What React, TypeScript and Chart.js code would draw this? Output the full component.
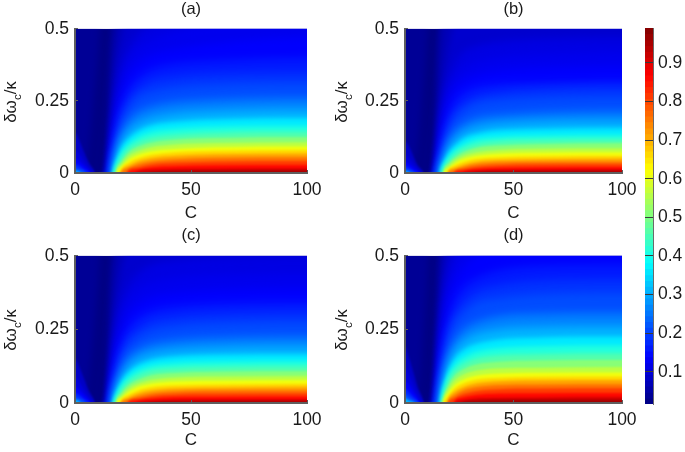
import React, { useEffect, useRef } from "react";
import { Chart, registerables } from "chart.js";

Chart.register(...registerables);

const RIGHT_COLS = [13, 15, 16, 17, 18, 20, 23, 27, 33, 43, 60, 100];
const LEFT_COLS = [0, 2, 4, 6, 8, 10, 12];
const RIGHT_LEVELS = [0.04, 0.06, 0.08, 0.1, 0.11, 0.125, 0.15, 0.175, 0.2, 0.25, 0.3, 0.35, 0.4, 0.45, 0.5, 0.55, 0.6, 0.65, 0.7, 0.75, 0.8, 0.85, 0.9, 0.95];
const LEFT_LEVELS = [0.07, 0.09, 0.12, 0.16, 0.2, 0.3];
const X_TICKS = [0, 50, 100];
const Y_TICKS = [0, 0.25, 0.5];
const COLORBAR_TICKS = [0.1, 0.2, 0.3, 0.4, 0.5, 0.6, 0.7, 0.8, 0.9];
const COLORBAR_STOPS = [0.017, 0.032, 0.047, 0.063, 0.078, 0.093, 0.108, 0.123, 0.139, 0.154, 0.169, 0.184, 0.199, 0.215, 0.23, 0.245, 0.26, 0.275, 0.291, 0.306, 0.321, 0.336, 0.351, 0.367, 0.382, 0.397, 0.412, 0.427, 0.443, 0.458, 0.473, 0.488, 0.503, 0.519, 0.534, 0.549, 0.564, 0.579, 0.595, 0.61, 0.625, 0.64, 0.655, 0.671, 0.686, 0.701, 0.716, 0.731, 0.747, 0.762, 0.777, 0.792, 0.807, 0.823, 0.838, 0.853, 0.868, 0.883, 0.899, 0.914, 0.929, 0.944, 0.959, 0.975];

const PANEL_A_RIGHT = [
  [0, .4, .52, .6, .6, .6, .6, .6, .6, .6, .6, .6],
  [0, .13, .3, .42, .5, .6, .6, .6, .6, .6, .6, .6],
  [0, .08, .2, .3, .38, .47, .55, .6, .6, .6, .6, .6],
  [0, .04, .12, .2, .27, .36, .43, .48, .52, .6, .6, .6],
  [0, .02, .1, .17, .23, .32, .39, .43, .46, .49, .52, .55],
  [0, .015, .07, .14, .19, .27, .34, .38, .41, .43, .45, .47],
  [0, 0, .05, .11, .16, .23, .29, .33, .36, .38, .39, .4],
  [0, 0, .03, .09, .13, .2, .25, .29, .32, .335, .345, .35],
  [0, 0, .02, .07, .11, .17, .22, .26, .28, .295, .305, .311],
  [0, 0, .01, .05, .085, .135, .18, .21, .23, .245, .254, .259],
  [0, 0, 0, .035, .065, .11, .145, .17, .19, .205, .214, .219],
  [0, 0, 0, .025, .05, .09, .12, .145, .165, .177, .185, .19],
  [0, 0, 0, .015, .035, .07, .1, .125, .143, .153, .16, .163],
  [0, 0, 0, .008, .025, .055, .085, .105, .122, .132, .139, .142],
  [0, 0, 0, 0, .015, .04, .07, .09, .105, .115, .121, .124],
  [0, 0, 0, 0, .008, .03, .058, .075, .09, .099, .104, .107],
  [0, 0, 0, 0, .003, .022, .045, .062, .075, .083, .089, .092],
  [0, 0, 0, 0, 0, .015, .035, .05, .063, .072, .077, .08],
  [0, 0, 0, 0, 0, .008, .025, .04, .052, .06, .065, .068],
  [0, 0, 0, 0, 0, .003, .017, .03, .041, .048, .053, .055],
  [0, 0, 0, 0, 0, 0, .01, .02, .03, .036, .04, .042],
  [0, 0, 0, 0, 0, 0, .004, .012, .02, .024, .027, .028],
  [0, 0, 0, 0, 0, 0, 0, .006, .011, .014, .015, .016],
  [0, 0, 0, 0, 0, 0, 0, 0, .003, .005, .007, .008],
];
const PANEL_B_RIGHT = [
  [0, .45, .55, .6, .6, .6, .6, .6, .6, .6, .6, .6],
  [0, .16, .35, .47, .55, .6, .6, .6, .6, .6, .6, .6],
  [0, .1, .2, .28, .34, .43, .52, .6, .6, .6, .6, .6],
  [0, .05, .12, .19, .25, .32, .38, .42, .44, .455, .465, .47],
  [0, .03, .09, .16, .21, .28, .33, .36, .385, .4, .41, .42],
  [0, .02, .07, .13, .18, .24, .29, .32, .34, .355, .365, .37],
  [0, .01, .05, .1, .14, .2, .25, .28, .3, .31, .315, .32],
  [0, 0, .035, .075, .11, .165, .21, .24, .265, .28, .292, .3],
  [0, 0, .025, .055, .09, .14, .185, .215, .24, .252, .26, .265],
  [0, 0, .015, .04, .065, .11, .145, .17, .19, .2, .208, .213],
  [0, 0, .005, .03, .05, .085, .115, .14, .158, .17, .177, .18],
  [0, 0, 0, .022, .04, .07, .095, .12, .135, .147, .152, .155],
  [0, 0, 0, .014, .03, .055, .08, .1, .118, .126, .13, .132],
  [0, 0, 0, .007, .02, .043, .066, .085, .1, .11, .114, .116],
  [0, 0, 0, 0, .013, .033, .054, .072, .087, .095, .1, .103],
  [0, 0, 0, 0, .006, .024, .044, .06, .072, .08, .084, .086],
  [0, 0, 0, 0, .002, .016, .034, .049, .06, .067, .07, .072],
  [0, 0, 0, 0, 0, .01, .026, .038, .049, .055, .058, .06],
  [0, 0, 0, 0, 0, .005, .018, .029, .039, .045, .048, .05],
  [0, 0, 0, 0, 0, .001, .011, .021, .03, .036, .039, .04],
  [0, 0, 0, 0, 0, 0, .006, .014, .022, .027, .03, .031],
  [0, 0, 0, 0, 0, 0, .002, .008, .014, .018, .02, .021],
  [0, 0, 0, 0, 0, 0, 0, .003, .008, .01, .011, .012],
  [0, 0, 0, 0, 0, 0, 0, 0, .002, .004, .005, .006],
];
const PANEL_C_RIGHT = [
  [0, .4, .52, .6, .6, .6, .6, .6, .6, .6, .6, .6],
  [0, .12, .3, .42, .5, .6, .6, .6, .6, .6, .6, .6],
  [0, .07, .18, .27, .35, .45, .53, .6, .6, .6, .6, .6],
  [0, .03, .11, .19, .26, .34, .4, .44, .47, .485, .495, .5],
  [0, .02, .09, .16, .21, .29, .35, .385, .41, .425, .435, .44],
  [0, .01, .07, .13, .18, .24, .3, .335, .36, .375, .385, .39],
  [0, 0, .05, .1, .14, .2, .255, .29, .315, .33, .34, .345],
  [0, 0, .03, .08, .115, .17, .22, .25, .28, .295, .305, .31],
  [0, 0, .02, .06, .09, .145, .19, .22, .245, .26, .27, .275],
  [0, 0, .01, .04, .07, .115, .155, .18, .2, .213, .221, .225],
  [0, 0, 0, .03, .055, .09, .125, .15, .168, .18, .187, .19],
  [0, 0, 0, .02, .042, .075, .105, .128, .146, .157, .163, .165],
  [0, 0, 0, .012, .03, .06, .088, .11, .127, .136, .141, .143],
  [0, 0, 0, .006, .02, .047, .073, .093, .11, .118, .122, .124],
  [0, 0, 0, 0, .012, .035, .06, .078, .094, .102, .106, .108],
  [0, 0, 0, 0, .006, .025, .048, .065, .079, .087, .09, .092],
  [0, 0, 0, 0, .002, .017, .037, .054, .066, .073, .076, .078],
  [0, 0, 0, 0, 0, .01, .027, .042, .054, .06, .063, .065],
  [0, 0, 0, 0, 0, .005, .019, .032, .043, .05, .053, .055],
  [0, 0, 0, 0, 0, .001, .012, .023, .033, .04, .043, .044],
  [0, 0, 0, 0, 0, 0, .006, .015, .024, .03, .032, .033],
  [0, 0, 0, 0, 0, 0, .002, .009, .015, .02, .021, .022],
  [0, 0, 0, 0, 0, 0, 0, .003, .008, .011, .012, .012],
  [0, 0, 0, 0, 0, 0, 0, 0, .002, .004, .005, .006],
];
const PANEL_D_RIGHT = [
  [0, .45, .55, .6, .6, .6, .6, .6, .6, .6, .6, .6],
  [0, .17, .36, .48, .55, .6, .6, .6, .6, .6, .6, .6],
  [0, .12, .25, .36, .44, .55, .6, .6, .6, .6, .6, .6],
  [0, .07, .18, .27, .34, .44, .52, .58, .6, .6, .6, .6],
  [0, .05, .15, .23, .3, .39, .47, .52, .56, .58, .6, .6],
  [0, .03, .11, .19, .25, .34, .41, .46, .5, .52, .54, .55],
  [0, .01, .08, .15, .2, .28, .35, .395, .425, .45, .465, .47],
  [0, 0, .06, .12, .17, .24, .3, .345, .38, .4, .415, .42],
  [0, 0, .04, .09, .14, .21, .27, .305, .34, .355, .368, .374],
  [0, 0, .02, .07, .11, .165, .215, .25, .275, .295, .303, .306],
  [0, 0, .005, .05, .085, .135, .18, .21, .235, .25, .257, .26],
  [0, 0, 0, .038, .068, .113, .153, .18, .2, .215, .222, .225],
  [0, 0, 0, .025, .052, .095, .13, .155, .175, .187, .193, .195],
  [0, 0, 0, .015, .038, .078, .11, .133, .152, .162, .166, .168],
  [0, 0, 0, .008, .027, .062, .094, .115, .131, .14, .144, .146],
  [0, 0, 0, 0, .017, .048, .078, .097, .11, .118, .12, .122],
  [0, 0, 0, 0, .009, .035, .062, .08, .093, .1, .103, .104],
  [0, 0, 0, 0, .003, .024, .05, .067, .08, .086, .089, .09],
  [0, 0, 0, 0, 0, .015, .038, .054, .067, .074, .077, .078],
  [0, 0, 0, 0, 0, .008, .027, .043, .054, .061, .063, .064],
  [0, 0, 0, 0, 0, .003, .017, .031, .041, .047, .049, .05],
  [0, 0, 0, 0, 0, 0, .008, .02, .028, .032, .033, .034],
  [0, 0, 0, 0, 0, 0, .002, .01, .016, .018, .019, .02],
  [0, 0, 0, 0, 0, 0, 0, .003, .007, .009, .01, .01],
];

const PANEL_A_EDGE = [0, 0, 0, .1, .25, .42, .65];
const PANEL_B_EDGE = [0, 0, .02, .12, .27, .45, .68];
const PANEL_C_EDGE = [0, 0, 0, .09, .24, .42, .65];
const PANEL_D_EDGE = [0, 0, 0, .04, .2, .4, .65];

const PANEL_A_LEFT = [
  [.14, .11, .07, .035, .012, 0, 0],
  [.08, .065, .04, .018, .003, 0, 0],
  [.05, .04, .024, .008, 0, 0, 0],
  [.03, .024, .012, .002, 0, 0, 0],
  [.018, .012, .005, 0, 0, 0, 0],
  [.008, .004, 0, 0, 0, 0, 0],
];
const PANEL_B_LEFT = [
  [.11, .09, .055, .025, .008, 0, 0],
  [.065, .05, .03, .012, .002, 0, 0],
  [.04, .03, .018, .005, 0, 0, 0],
  [.024, .018, .008, .001, 0, 0, 0],
  [.014, .009, .003, 0, 0, 0, 0],
  [.006, .003, 0, 0, 0, 0, 0],
];
const PANEL_C_LEFT = [
  [.15, .12, .08, .04, .014, 0, 0],
  [.09, .07, .045, .02, .004, 0, 0],
  [.055, .044, .027, .009, 0, 0, 0],
  [.034, .026, .014, .003, 0, 0, 0],
  [.02, .014, .006, 0, 0, 0, 0],
  [.01, .005, 0, 0, 0, 0, 0],
];
const PANEL_D_LEFT = [
  [.19, .15, .1, .05, .018, 0, 0],
  [.12, .095, .06, .028, .006, 0, 0],
  [.075, .06, .036, .014, 0, 0, 0],
  [.048, .036, .02, .005, 0, 0, 0],
  [.03, .02, .01, .001, 0, 0, 0],
  [.015, .008, .002, 0, 0, 0, 0],
];

const FONT = "'Liberation Sans', Arial, sans-serif";
const INK = "#1a1a1a";
const AXIS = "#5f5f5f";
const BELOW_AXIS = -0.03;

function clamp01(v: number) {
  return Math.max(0, Math.min(1, v));
}
function jet(t: number) {
  const r = clamp01(Math.min(4 * t - 1.5, -4 * t + 4.5));
  const g = clamp01(Math.min(4 * t - 0.5, -4 * t + 3.5));
  const b = clamp01(Math.min(4 * t + 0.5, -4 * t + 2.5));
  return `rgb(${Math.round(r * 255)},${Math.round(g * 255)},${Math.round(b * 255)})`;
}
function colorFor(v: number) {
  return jet((v - 0.017) / 0.973);
}
function softness(level: number) {
  if (level < 0.1) return 3;
  if (level <= 0.3) return 4;
  if (level < 0.5) return 2;
  return 1;
}

function layer(points: { x: number; y: number }[], color: string, target: number, soft: number) {
  return {
    data: points,
    soft,
    showLine: true,
    pointRadius: 0,
    borderWidth: 0,
    backgroundColor: color,
    borderColor: color,
    cubicInterpolationMode: "monotone" as const,
    fill: { value: target },
  };
}

function buildDatasets(right: number[][], left: number[][], edge: number[]) {
  const painted: any[] = [];
  painted.push(layer([{ x: -4, y: 0.7 }, { x: 104, y: 0.7 }], colorFor(0.022), -0.1, 1));
  const edgePoints = LEFT_COLS.map((c, i) => ({ x: c, y: edge[i] }));
  painted.push(layer([{ x: -4, y: edge[0] }, ...edgePoints, { x: 18, y: 0.7 }], colorFor(0.038), 0.7, 3));
  LEFT_LEVELS.forEach((lv, li) => {
    const pts = LEFT_COLS.map((c, i) => ({ x: c, y: left[li][i] || BELOW_AXIS }));
    painted.push(layer([{ x: -4, y: left[li][0] }, ...pts], colorFor(lv + 0.015), -0.1, 1));
  });
  RIGHT_LEVELS.forEach((lv, li) => {
    const row = right[li];
    const pts = RIGHT_COLS.map((c, i) => ({ x: c, y: row[i] || BELOW_AXIS }));
    painted.push(layer([{ x: 8, y: BELOW_AXIS }, ...pts, { x: 104, y: row[row.length - 1] }], colorFor(lv + 0.012), -0.1, softness(lv)));
  });
  return painted.reverse();
}

const softenPlugin = {
  id: "soften",
  beforeDatasetsDraw(chart: any) {
    const sets = chart.data.datasets;
    chart.ctx.save();
    chart.ctx.filter = `blur(${sets[sets.length - 1].soft}px)`;
  },
  afterDatasetDraw(chart: any, args: any) {
    const next = chart.data.datasets[args.index - 1];
    if (next) chart.ctx.filter = `blur(${next.soft}px)`;
  },
  afterDatasetsDraw(chart: any) {
    chart.ctx.restore();
  },
};

function yTitlePlugin(baseline: number, centerY: number) {
  return {
    id: "yTitle",
    afterDraw(chart: any) {
      const ctx = chart.ctx;
      ctx.save();
      ctx.translate(baseline, centerY);
      ctx.rotate(-Math.PI / 2);
      ctx.fillStyle = INK;
      ctx.textBaseline = "alphabetic";
      ctx.textAlign = "left";
      const main = `17px ${FONT}`;
      const sub = `11.5px ${FONT}`;
      ctx.font = main;
      const a = ctx.measureText("δω").width;
      const c = ctx.measureText("/κ").width;
      ctx.font = sub;
      const b = ctx.measureText("c").width;
      let x = -(a + b + c) / 2;
      ctx.font = main;
      ctx.fillText("δω", x, 0);
      x += a;
      ctx.font = sub;
      ctx.fillText("c", x, 5);
      x += b;
      ctx.font = main;
      ctx.fillText("/κ", x, 0);
      ctx.restore();
    },
  };
}

type PanelProps = {
  name: string;
  right: number[][];
  left: number[][];
  edge: number[];
  box: { left: number; top: number; width: number; height: number; axisW: number; padRight: number; axisH: number; titlePad: number; xTitlePad: number; yBase: number; yMid: number };
};

function Panel({ name, right, left, edge, box }: PanelProps) {
  const ref = useRef<HTMLCanvasElement>(null);
  useEffect(() => {
    const chart = new Chart(ref.current as HTMLCanvasElement, {
      type: "scatter",
      data: { datasets: buildDatasets(right, left, edge) },
      plugins: [softenPlugin, yTitlePlugin(box.yBase, box.yMid)],
      options: {
        responsive: false,
        animation: false,
        events: [],
        layout: { padding: { right: box.padRight } },
        plugins: {
          legend: { display: false },
          tooltip: { enabled: false },
          title: {
            display: true,
            text: name,
            fullSize: false,
            color: INK,
            font: { family: FONT, size: 16.5, weight: "normal" },
            padding: { top: 0, bottom: box.titlePad },
          },
        },
        scales: {
          x: {
            type: "linear",
            min: 0,
            max: 100,
            afterBuildTicks: (s: any) => { s.ticks = X_TICKS.map((v) => ({ value: v })); },
            afterFit: (s: any) => { s.height = box.axisH; s.paddingLeft = 0; s.paddingRight = 0; },
            grid: { drawOnChartArea: false, tickLength: -3, color: AXIS, z: 1 },
            border: { color: AXIS, width: 2, z: 1 },
            ticks: { color: INK, padding: 10, maxRotation: 0, font: { family: FONT, size: 17.5 }, callback: (v: any) => String(v) },
            title: { display: true, text: "C", color: INK, font: { family: FONT, size: 17 }, padding: { top: 0, bottom: box.xTitlePad } },
          },
          y: {
            type: "linear",
            min: 0,
            max: 0.5,
            afterBuildTicks: (s: any) => { s.ticks = Y_TICKS.map((v) => ({ value: v })); },
            afterFit: (s: any) => { s.width = box.axisW; s.paddingTop = 0; s.paddingBottom = 0; },
            grid: { drawOnChartArea: false, tickLength: -3, color: AXIS, z: 1 },
            border: { color: AXIS, width: 2, z: 1 },
            ticks: { color: INK, padding: 9, font: { family: FONT, size: 17.5 }, callback: (v: any) => String(v) },
          },
        },
      } as any,
    } as any);
    return () => chart.destroy();
  }, []);
  return (
    <canvas
      ref={ref}
      width={box.width}
      height={box.height}
      style={{ position: "absolute", left: box.left, top: box.top, width: box.width, height: box.height }}
    />
  );
}

function ColorBar() {
  const ref = useRef<HTMLCanvasElement>(null);
  useEffect(() => {
    const stops = [...COLORBAR_STOPS].reverse();
    const chart = new Chart(ref.current as HTMLCanvasElement, {
      type: "bar",
      data: {
        labels: [""],
        datasets: stops.map((v) => ({
          data: [[v, 0.99]],
          backgroundColor: jet((v + 0.0076 - 0.017) / 0.973),
          borderWidth: 0,
          grouped: false,
          barPercentage: 1,
          categoryPercentage: 1,
        })),
      },
      options: {
        responsive: false,
        animation: false,
        events: [],
        layout: { padding: { top: 28, bottom: 48, left: 15 } },
        plugins: { legend: { display: false }, tooltip: { enabled: false } },
        scales: {
          x: { display: false },
          y: {
            position: "right",
            min: 0.017,
            max: 0.99,
            afterBuildTicks: (s: any) => { s.ticks = COLORBAR_TICKS.map((v) => ({ value: v })); },
            afterFit: (s: any) => { s.width = 32; s.paddingTop = 0; s.paddingBottom = 0; },
            grid: { drawOnChartArea: false, tickLength: -8, color: "#3a3a3a", z: 1 },
            border: { color: "#6a6a6a", width: 1, z: 1 },
            ticks: { color: INK, padding: 13, font: { family: FONT, size: 17.5 }, callback: (v: any) => String(v) },
          },
        },
      } as any,
    } as any);
    return () => chart.destroy();
  }, []);
  return <canvas ref={ref} width={55} height={452} style={{ position: "absolute", left: 630, top: 0, width: 55, height: 452 }} />;
}

const BOX_A = { left: 0, top: 0, width: 325, height: 226, axisW: 75, padRight: 18, axisH: 53, titlePad: 9, xTitlePad: 2, yBase: 16, yMid: 102 };
const BOX_B = { left: 320, top: 0, width: 320, height: 226, axisW: 85, padRight: 18, axisH: 53, titlePad: 9, xTitlePad: 2, yBase: 27, yMid: 102 };
const BOX_C = { left: 0, top: 226, width: 325, height: 226, axisW: 75, padRight: 18, axisH: 49, titlePad: 10, xTitlePad: 1, yBase: 16, yMid: 104 };
const BOX_D = { left: 320, top: 226, width: 320, height: 226, axisW: 85, padRight: 18, axisH: 49, titlePad: 10, xTitlePad: 1, yBase: 27, yMid: 104 };

export default function App() {
  return (
    <div style={{ position: "fixed", left: 0, top: 0, width: 685, height: 452, background: "#fff", overflow: "hidden" }}>
      <Panel name="(a)" right={PANEL_A_RIGHT} left={PANEL_A_LEFT} edge={PANEL_A_EDGE} box={BOX_A} />
      <Panel name="(b)" right={PANEL_B_RIGHT} left={PANEL_B_LEFT} edge={PANEL_B_EDGE} box={BOX_B} />
      <Panel name="(c)" right={PANEL_C_RIGHT} left={PANEL_C_LEFT} edge={PANEL_C_EDGE} box={BOX_C} />
      <Panel name="(d)" right={PANEL_D_RIGHT} left={PANEL_D_LEFT} edge={PANEL_D_EDGE} box={BOX_D} />
      <ColorBar />
    </div>
  );
}
